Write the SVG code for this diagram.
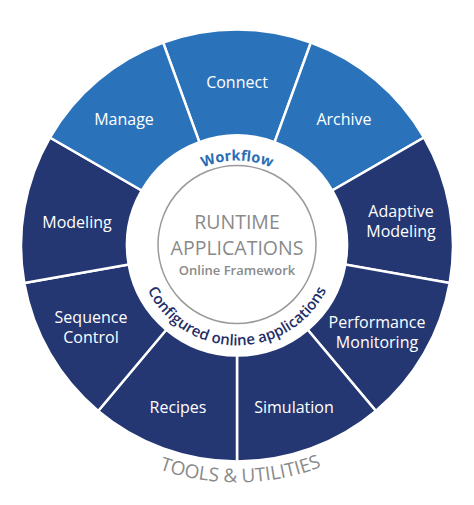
<svg xmlns="http://www.w3.org/2000/svg" xmlns:xlink="http://www.w3.org/1999/xlink" width="474" height="505" viewBox="0 0 474 505">
  <style>
    .light { fill: #2a73bb; stroke: #ffffff; stroke-width: 2.5; stroke-linejoin: miter; }
    .dark { fill: #243773; stroke: #ffffff; stroke-width: 2.5; stroke-linejoin: miter; }
    .lbl { font-family: "Open Sans", "Noto Sans", "Liberation Sans", sans-serif; font-size: 16px; fill: #ffffff; text-anchor: middle; }
    .core { font-family: "Open Sans", "Noto Sans", "Liberation Sans", sans-serif; fill: #8a8a8a; text-anchor: middle; }
    .arc { font-family: "Open Sans", "Noto Sans", "Liberation Sans", sans-serif; }
  </style>
  <defs>
    <path id="arcTop" d="M 152 245.5 A 85 85 0 0 1 322 245.5"/>
    <path id="arcBottom" d="M 137 245.5 A 100 100 0 0 0 337 245.5"/>
    <path id="arcOuter" d="M 0 245.5 A 237 237 0 0 0 474 245.5"/>
  </defs>
  <rect width="474" height="505" fill="#ffffff"/>

  <g id="connect">
    <path class="light" d="M 163.12 42.53 A 216 216 0 0 1 310.88 42.53 L 274.62 142.13 A 110 110 0 0 0 199.38 142.13 Z"/>
    <text class="lbl" x="237" y="88">Connect</text>
  </g>
  <g id="archive">
    <path class="light" d="M 310.88 42.53 A 216 216 0 0 1 424.06 137.5 L 332.26 190.5 A 110 110 0 0 0 274.62 142.13 Z"/>
    <text class="lbl" x="344" y="125">Archive</text>
  </g>
  <g id="adaptive-modeling">
    <path class="dark" d="M 424.06 137.5 A 216 216 0 0 1 449.72 283.01 L 345.33 264.6 A 110 110 0 0 0 332.26 190.5 Z"/>
    <text class="lbl" x="401" y="217">Adaptive</text>
    <text class="lbl" x="401" y="237">Modeling</text>
  </g>
  <g id="performance-monitoring">
    <path class="dark" d="M 449.72 283.01 A 216 216 0 0 1 375.84 410.96 L 307.71 329.76 A 110 110 0 0 0 345.33 264.6 Z"/>
    <text class="lbl" x="377" y="328">Performance</text>
    <text class="lbl" x="377" y="348">Monitoring</text>
  </g>
  <g id="simulation">
    <path class="dark" d="M 375.84 410.96 A 216 216 0 0 1 237 461.5 L 237 355.5 A 110 110 0 0 0 307.71 329.76 Z"/>
    <text class="lbl" x="294" y="413">Simulation</text>
  </g>
  <g id="recipes">
    <path class="dark" d="M 237 461.5 A 216 216 0 0 1 98.16 410.96 L 166.29 329.76 A 110 110 0 0 0 237 355.5 Z"/>
    <text class="lbl" x="178" y="413">Recipes</text>
  </g>
  <g id="sequence-control">
    <path class="dark" d="M 98.16 410.96 A 216 216 0 0 1 24.28 283.01 L 128.67 264.6 A 110 110 0 0 0 166.29 329.76 Z"/>
    <text class="lbl" x="91" y="323">Sequence</text>
    <text class="lbl" x="91" y="343">Control</text>
  </g>
  <g id="modeling">
    <path class="dark" d="M 24.28 283.01 A 216 216 0 0 1 49.94 137.5 L 141.74 190.5 A 110 110 0 0 0 128.67 264.6 Z"/>
    <text class="lbl" x="77" y="228">Modeling</text>
  </g>
  <g id="manage">
    <path class="light" d="M 49.94 137.5 A 216 216 0 0 1 163.12 42.53 L 199.38 142.13 A 110 110 0 0 0 141.74 190.5 Z"/>
    <text class="lbl" x="124" y="125">Manage</text>
  </g>

  <g id="core">
    <circle cx="237" cy="244.5" r="79" fill="#ffffff" stroke="#9a9a9a" stroke-width="1.5"/>
    <text class="core" x="237" y="229" font-size="19.5">RUNTIME</text>
    <text class="core" x="237" y="255" font-size="19.5">APPLICATIONS</text>
    <text class="core" x="237" y="275" font-size="13" font-weight="600">Online Framework</text>
  </g>

  <g id="workflow">
    <text class="arc" font-size="14.5" font-weight="700" fill="#2b6db4" text-anchor="middle"><textPath xlink:href="#arcTop" href="#arcTop" startOffset="50%">Workflow</textPath></text>
  </g>
  <g id="configured">
    <text class="arc" font-size="15" font-weight="600" fill="#1f2e68" text-anchor="middle"><textPath xlink:href="#arcBottom" href="#arcBottom" startOffset="50%">Configured online applications</textPath></text>
  </g>
  <g id="tools-utilities">
    <text class="arc" font-size="19" fill="#8a8a8a" text-anchor="middle"><textPath xlink:href="#arcOuter" href="#arcOuter" startOffset="50.5%">TOOLS &amp; UTILITIES</textPath></text>
  </g>

  <g id="connectors"/>
</svg>
